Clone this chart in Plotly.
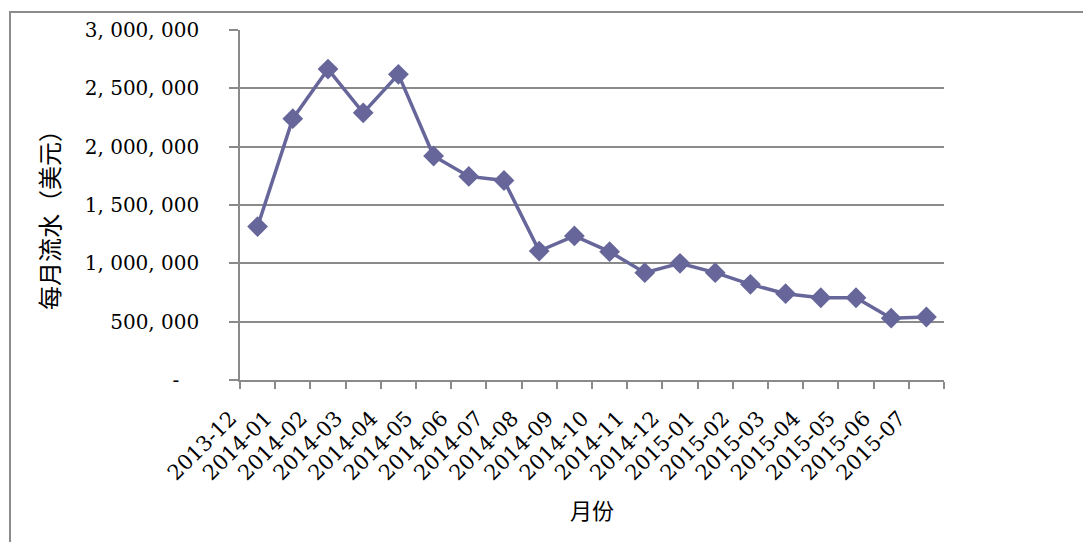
import plotly.graph_objects as go

# Monthly revenue (USD), Dec 2013 – Jul 2015
months = [
    "2013-12", "2014-01", "2014-02", "2014-03", "2014-04", "2014-05",
    "2014-06", "2014-07", "2014-08", "2014-09", "2014-10", "2014-11",
    "2014-12", "2015-01", "2015-02", "2015-03", "2015-04", "2015-05",
    "2015-06", "2015-07",
]
revenue = [
    1315000, 2240000, 2665000, 2290000, 2620000, 1920000,
    1745000, 1710000, 1105000, 1235000, 1100000, 920000,
    1000000, 920000, 820000, 740000, 705000, 705000,
    530000, 540000,
]
y_tick_vals = [0, 500000, 1000000, 1500000, 2000000, 2500000, 3000000]
y_tick_text = ["-\u2003", "500, 000", "1, 000, 000", "1, 500, 000",
               "2, 000, 000", "2, 500, 000", "3, 000, 000"]

W, H = 1083, 542
ML, MR, MT, MB = 240, 139, 30, 162
SERIF = "DejaVu Serif"
CJK = "Noto Sans CJK SC"
GRID = "#8a8a8a"
SERIES = "#66669a"

fig = go.Figure(
    go.Scatter(
        x=months,
        y=revenue,
        mode="lines+markers",
        line=dict(color=SERIES, width=3.5),
        marker=dict(symbol="diamond", size=16, color=SERIES),
        showlegend=False,
        cliponaxis=False,
    )
)

plot_w = W - ML - MR
plot_h = H - MT - MB


def px_x(px):
    return (px - ML) / plot_w


def px_y(py):
    return (H - MB - py) / plot_h


fig.update_layout(
    width=W,
    height=H,
    margin=dict(l=ML, r=MR, t=MT, b=MB, pad=0),
    paper_bgcolor="white",
    plot_bgcolor="white",
    font=dict(family=SERIF, color="black", size=20),
    xaxis=dict(
        type="category",
        range=[-0.5, len(months) - 0.5],
        tickson="boundaries",
        ticks="outside",
        ticklen=7,
        tickwidth=1.5,
        tickcolor=GRID,
        showline=True,
        linecolor=GRID,
        linewidth=1.5,
        showgrid=False,
        tickangle=-45,
        ticklabelshift=-27,
        ticklabelstandoff=16,
        tickfont=dict(family=SERIF, size=21, color="black"),
    ),
    yaxis=dict(
        range=[0, 3000000],
        tickvals=y_tick_vals,
        ticktext=y_tick_text,
        ticks="outside",
        ticklen=9,
        tickwidth=1.5,
        tickcolor=GRID,
        showline=True,
        linecolor=GRID,
        linewidth=1.5,
        showgrid=True,
        gridcolor=GRID,
        gridwidth=1.5,
        zeroline=False,
        ticklabelstandoff=26,
        tickfont=dict(family=SERIF, size=20, color="black"),
    ),
    shapes=[
        # outer chart frame
        dict(
            type="rect", xref="paper", yref="paper",
            x0=px_x(10), x1=px_x(1095), y0=px_y(560), y1=px_y(12),
            line=dict(color="#8c8c8c", width=2), fillcolor="rgba(0,0,0,0)",
            layer="below",
        )
    ],
    annotations=[
        dict(
            text="每月流水（美元）", textangle=-90, showarrow=False,
            xref="paper", yref="paper", x=px_x(48), y=px_y(214),
            xanchor="center", yanchor="middle",
            font=dict(family=CJK, size=24, color="black"),
        ),
        dict(
            text="月份", showarrow=False,
            xref="paper", yref="paper", x=px_x(592), y=px_y(509),
            xanchor="center", yanchor="middle",
            font=dict(family=CJK, size=22, color="black"),
        ),
    ],
)

fig.write_html("out.html")
